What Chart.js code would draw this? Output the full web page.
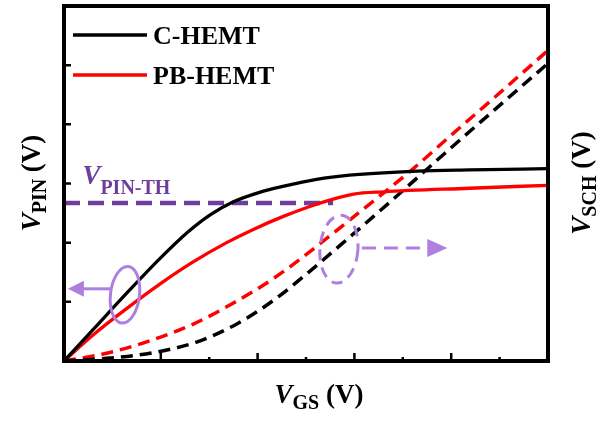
<!DOCTYPE html>
<html>
<head>
<meta charset="utf-8">
<script src="https://cdn.jsdelivr.net/npm/chart.js@4/dist/chart.umd.min.js"></script>
<style>
  html, body { margin: 0; padding: 0; background: #fff; }
  #c { display: block; }
</style>
</head>
<body>
<canvas id="c" width="598" height="424"></canvas>
<script>
// V_PIN (left axis) vs V_GS
const cPinX = [0, 0.30, 0.65, 0.99, 1.28, 1.51, 1.75, 2.02, 2.26, 2.61, 2.95, 3.65, 4.19, 5.0];
const cPinY = [0, 0.53, 1.15, 1.73, 2.18, 2.47, 2.69, 2.85, 2.95, 3.07, 3.14, 3.21, 3.23, 3.25];
const pbPinX = [0, 0.30, 0.65, 0.99, 1.33, 1.68, 1.95, 2.26, 2.61, 2.99, 3.30, 4.19, 5.0];
const pbPinY = [0, 0.44, 0.89, 1.30, 1.67, 2.00, 2.22, 2.44, 2.65, 2.82, 2.86, 2.92, 2.97];

// V_SCH (right axis) vs V_GS
const cSchX = [0, 0.48, 0.92, 1.37, 1.79, 2.16, 2.52, 2.87, 3.23, 3.57, 3.92, 4.50, 5.0];
const cSchY = [0, 0.05, 0.14, 0.32, 0.63, 1.02, 1.49, 1.98, 2.49, 2.98, 3.49, 4.32, 5.03];
const pbSchX = [0, 0.44, 0.92, 1.33, 1.75, 2.16, 2.51, 2.88, 3.24, 3.60, 3.94, 4.50, 5.0];
const pbSchY = [0, 0.13, 0.36, 0.62, 0.98, 1.39, 1.81, 2.29, 2.76, 3.24, 3.73, 4.53, 5.25];

// threshold line V_PIN-TH
const thX = [0, 2.78];
const thY = [2.67, 2.67];

const seriesNames = ['C-HEMT', 'PB-HEMT'];
const xTicks = [0, 1, 2, 3, 4, 5];
const yTicks = [1, 2, 3, 4, 5];

const pts = (xs, ys) => xs.map((x, i) => ({ x: x, y: ys[i] }));

const serif = '"Liberation Serif", "Times New Roman", serif';
const lilac = '#ae7fe0';
const darkPurple = '#6f3d9c';

// draws a run of text parts centred on (cx, cy), optionally rotated
function drawParts(ctx, parts, cx, cy, rot, color) {
  ctx.save();
  ctx.translate(cx, cy);
  if (rot) ctx.rotate(rot);
  ctx.fillStyle = color || '#000';
  ctx.textBaseline = 'alphabetic';
  let total = 0;
  parts.forEach(p => { ctx.font = p.f; p.w = ctx.measureText(p.t).width; total += p.w; });
  let x = -total / 2;
  parts.forEach(p => {
    ctx.font = p.f;
    ctx.fillText(p.t, x, p.dy || 0);
    x += p.w;
  });
  ctx.restore();
}

function arrowHead(ctx, x, y, dir, len, half) {
  ctx.beginPath();
  ctx.moveTo(x, y);
  ctx.lineTo(x - dir * len, y - half);
  ctx.lineTo(x - dir * len, y + half);
  ctx.closePath();
  ctx.fill();
}

const decor = {
  id: 'decor',
  afterDatasetsDraw(chart) {
    const ctx = chart.ctx;
    const xs = chart.scales.x, ys = chart.scales.y;
    const a = chart.chartArea;
    ctx.save();

    // threshold label
    const lx = xs.getPixelForValue(0.19), ly = ys.getPixelForValue(2.99);
    ctx.fillStyle = darkPurple;
    ctx.font = 'italic bold 27px ' + serif;
    ctx.fillText('V', lx, ly);
    const vw = ctx.measureText('V').width;
    ctx.font = 'bold 20px ' + serif;
    ctx.fillText('PIN-TH', lx + vw, ly + 10);

    // left annotation: solid ellipse + arrow
    ctx.strokeStyle = lilac;
    ctx.fillStyle = lilac;
    ctx.lineWidth = 3;
    const e1x = xs.getPixelForValue(0.63), e1y = ys.getPixelForValue(1.12);
    ctx.beginPath();
    ctx.ellipse(e1x, e1y, 14.5, 28.5, 0.12, 0, Math.PI * 2);
    ctx.stroke();
    const ay = ys.getPixelForValue(1.22);
    const ax0 = xs.getPixelForValue(0.48), ax1 = xs.getPixelForValue(0.04);
    ctx.beginPath();
    ctx.moveTo(ax0, ay);
    ctx.lineTo(ax1 + 12, ay);
    ctx.stroke();
    arrowHead(ctx, ax1, ay, -1, 16, 8);

    // right annotation: dashed ellipse + dashed arrow
    const e2x = xs.getPixelForValue(2.84), e2y = ys.getPixelForValue(1.89);
    ctx.setLineDash([11, 7]);
    ctx.beginPath();
    ctx.ellipse(e2x, e2y, 19, 34, 0.08, 0, Math.PI * 2);
    ctx.stroke();
    const by = ys.getPixelForValue(1.91);
    const bx0 = e2x + 23, bx1 = xs.getPixelForValue(3.96);
    ctx.setLineDash([14, 8]);
    ctx.beginPath();
    ctx.moveTo(bx0, by);
    ctx.lineTo(bx1 - 20, by);
    ctx.stroke();
    ctx.setLineDash([]);
    arrowHead(ctx, bx1, by, 1, 20, 9);

    // ticks (inward)
    ctx.strokeStyle = '#000';
    ctx.lineWidth = 2.5;
    ctx.beginPath();
    xTicks.forEach(v => {
      const px = xs.getPixelForValue(v);
      ctx.moveTo(px, a.bottom); ctx.lineTo(px, a.bottom - 8);
      if (v < 5) {
        const pm = xs.getPixelForValue(v + 0.5);
        ctx.moveTo(pm, a.bottom); ctx.lineTo(pm, a.bottom - 4);
      }
    });
    yTicks.forEach(v => {
      const py = ys.getPixelForValue(v);
      ctx.moveTo(a.left, py); ctx.lineTo(a.left + 7, py);
    });
    ctx.stroke();

    // frame
    ctx.lineWidth = 4;
    ctx.strokeRect(a.left, a.top, a.right - a.left, a.bottom - a.top);

    // legend
    const legColors = ['#000', '#ff0000'];
    const legY = [35, 75];
    seriesNames.forEach((n, i) => {
      ctx.strokeStyle = legColors[i];
      ctx.lineWidth = 3.5;
      ctx.beginPath();
      ctx.moveTo(a.left + 9, legY[i]);
      ctx.lineTo(a.left + 83, legY[i]);
      ctx.stroke();
      ctx.fillStyle = '#000';
      ctx.font = 'bold 26px ' + serif;
      ctx.textBaseline = 'middle';
      ctx.fillText(n, a.left + 89, legY[i] + 2);
    });
    ctx.textBaseline = 'alphabetic';

    // axis titles
    const big = 'bold 27px ' + serif, bigI = 'italic bold 27px ' + serif, sub = 'bold 20px ' + serif;
    drawParts(ctx, [{ t: 'V', f: bigI }, { t: 'GS', f: sub, dy: 6 }, { t: ' (V)', f: big }],
      319, 403);
    drawParts(ctx, [{ t: 'V', f: bigI }, { t: 'PIN', f: sub, dy: 6 }, { t: ' (V)', f: big }],
      40, 183, -Math.PI / 2);
    drawParts(ctx, [{ t: 'V', f: bigI }, { t: 'SCH', f: sub, dy: 6 }, { t: ' (V)', f: big }],
      590, 183, -Math.PI / 2);

    ctx.restore();
  }
};

new Chart(document.getElementById('c'), {
  type: 'line',
  data: {
    datasets: [
      { data: pts(cPinX, cPinY), borderColor: '#000', borderWidth: 3.3, yAxisID: 'y' },
      { data: pts(pbPinX, pbPinY), borderColor: '#ff0000', borderWidth: 3.3, yAxisID: 'y' },
      { data: pts(cSchX, cSchY), borderColor: '#000', borderWidth: 3.5, borderDash: [12, 7], yAxisID: 'y2' },
      { data: pts(pbSchX, pbSchY), borderColor: '#ff0000', borderWidth: 3.5, borderDash: [12, 7], yAxisID: 'y2' },
      { data: pts(thX, thY), borderColor: darkPurple, borderWidth: 4.5, borderDash: [16, 8], cubicInterpolationMode: 'default', tension: 0, yAxisID: 'y' }
    ]
  },
  options: {
    responsive: false,
    animation: false,
    devicePixelRatio: 1,
    layout: { padding: { left: 64, right: 50, top: 6, bottom: 63 } },
    elements: {
      point: { radius: 0 },
      line: { cubicInterpolationMode: 'monotone', borderCapStyle: 'butt', fill: false }
    },
    plugins: { legend: { display: false }, tooltip: { enabled: false } },
    scales: {
      x: { type: 'linear', min: 0, max: 5, display: false },
      y: { min: 0, max: 6, display: false },
      y2: { min: 0, max: 6, display: false, position: 'right' }
    }
  },
  plugins: [decor]
});
</script>
</body>
</html>
